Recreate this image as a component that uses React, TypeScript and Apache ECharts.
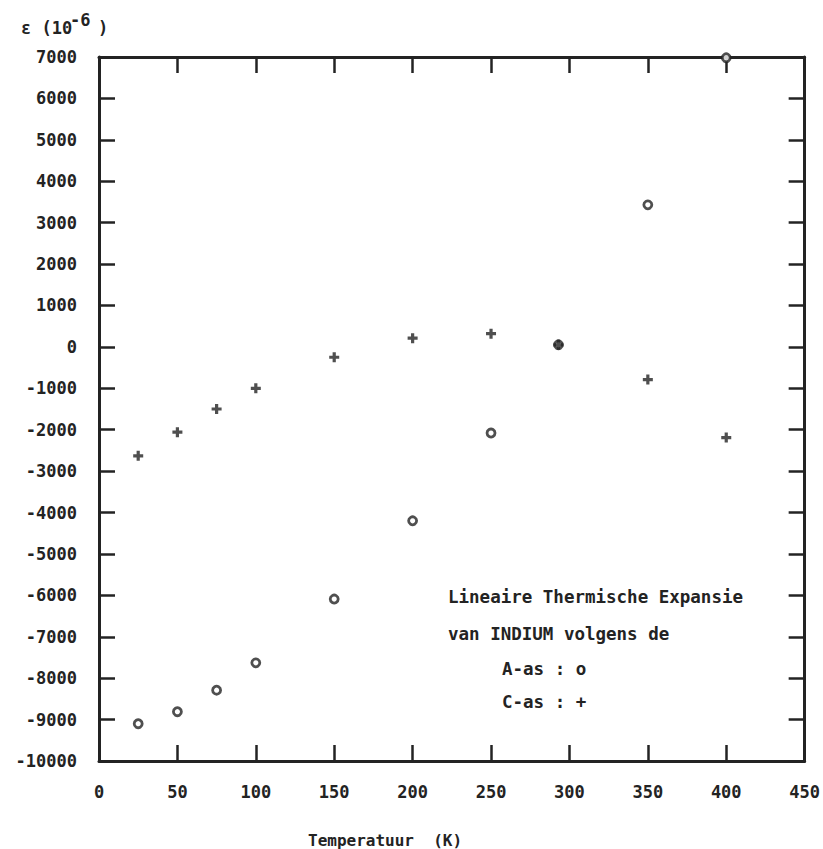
import React, { useEffect, useRef } from "react";
import * as echarts from "echarts";

// Temperature (K) at which the lattice strain was measured
const temperatures = [25, 50, 75, 100, 150, 200, 250, 293, 350, 400];
// Strain along the a-axis (10^-6)
const strainA = [-9100, -8810, -8290, -7630, -6090, -4200, -2080, 50, 3430, 6980];
// Strain along the c-axis (10^-6)
const strainC = [-2630, -2060, -1500, -1000, -250, 210, 320, 50, -790, -2190];

// Axis ranges and tick steps
const xRange = [0, 450];
const xStep = 50;
const yRange = [-10000, 7000];
const yStep = 1000;

const legendLines = [
  "Lineaire Thermische Expansie",
  "van INDIUM volgens de",
];
const seriesLabels = ["A-as : o", "C-as : +"];
const xTitle = "Temperatuur  (K)";

const FONT_FAMILY = '"DejaVu Sans Mono", "Liberation Mono", monospace';
const INK = "#232323";
const font = (size: number) => `bold ${size}px ${FONT_FAMILY}`;

const PLUS_SYMBOL =
  "path://M3.4,0H6.6V3.4H10V6.6H6.6V10H3.4V6.6H0V3.4H3.4Z";

export default function App() {
  const ref = useRef<HTMLDivElement>(null);

  useEffect(() => {
    if (!ref.current) return;
    const chart = echarts.init(ref.current, null, { renderer: "svg" });

    const axisLine = { show: true, onZero: false, lineStyle: { color: INK, width: 3 } };
    const axisTick = {
      show: true,
      inside: true,
      length: 16,
      lineStyle: { color: INK, width: 2.5 },
    };
    const label = {
      fontFamily: FONT_FAMILY,
      fontWeight: "bold" as const,
      fontSize: 17,
      color: INK,
    };

    const xBase = {
      type: "value" as const,
      min: xRange[0],
      max: xRange[1],
      interval: xStep,
      axisLine,
      axisTick,
      splitLine: { show: false },
    };
    const yBase = {
      type: "value" as const,
      min: yRange[0],
      max: yRange[1],
      interval: yStep,
      axisLine,
      axisTick,
      splitLine: { show: false },
    };

    chart.setOption({
      animation: false,
      backgroundColor: "#ffffff",
      grid: { left: 99, right: 17, top: 57, bottom: 88, containLabel: false },
      xAxis: [
        {
          ...xBase,
          position: "bottom",
          axisLabel: { ...label, margin: 22, formatter: (v: number) => String(v) },
        },
        { ...xBase, position: "top", axisLabel: { show: false } },
      ],
      yAxis: [
        {
          ...yBase,
          position: "left",
          axisLabel: { ...label, margin: 22, formatter: (v: number) => String(v) },
        },
        { ...yBase, position: "right", axisLabel: { show: false } },
      ],
      series: [
        {
          name: "A-as",
          type: "scatter",
          data: temperatures.map((t, i) => [t, strainA[i]]),
          symbol: "circle",
          symbolSize: 8,
          itemStyle: { color: "#ffffff", borderColor: INK, borderWidth: 2.8 },
          z: 3,
        },
        {
          name: "C-as",
          type: "scatter",
          data: temperatures.map((t, i) => [t, strainC[i]]),
          symbol: PLUS_SYMBOL,
          symbolSize: 10,
          itemStyle: { color: INK },
          z: 4,
        },
      ],
      graphic: [
        // y-axis title: ε (10^-6 )
        {
          type: "text",
          x: 21,
          y: 28,
          style: { text: "ε (10", font: font(17), fill: INK, verticalAlign: "middle" },
        },
        {
          type: "text",
          x: 70,
          y: 20,
          style: { text: "-6", font: font(17), fill: INK, verticalAlign: "middle" },
        },
        {
          type: "text",
          x: 98,
          y: 28,
          style: { text: ")", font: font(17), fill: INK, verticalAlign: "middle" },
        },
        // x-axis title
        {
          type: "text",
          x: 308,
          y: 840,
          style: { text: xTitle, font: font(16), fill: INK, verticalAlign: "middle" },
        },
        // annotation block inside the plot
        {
          type: "text",
          x: 448,
          y: 597,
          style: { text: legendLines[0], font: font(17.5), fill: INK, verticalAlign: "middle" },
        },
        {
          type: "text",
          x: 448,
          y: 634,
          style: { text: legendLines[1], font: font(17.5), fill: INK, verticalAlign: "middle" },
        },
        {
          type: "text",
          x: 502,
          y: 669,
          style: { text: seriesLabels[0], font: font(17.5), fill: INK, verticalAlign: "middle" },
        },
        {
          type: "text",
          x: 502,
          y: 702,
          style: { text: seriesLabels[1], font: font(17.5), fill: INK, verticalAlign: "middle" },
        },
      ],
    });

    return () => chart.dispose();
  }, []);

  return (
    <div
      ref={ref}
      style={{ position: "fixed", left: 0, top: 0, width: 823, height: 849, background: "#fff" }}
    />
  );
}
